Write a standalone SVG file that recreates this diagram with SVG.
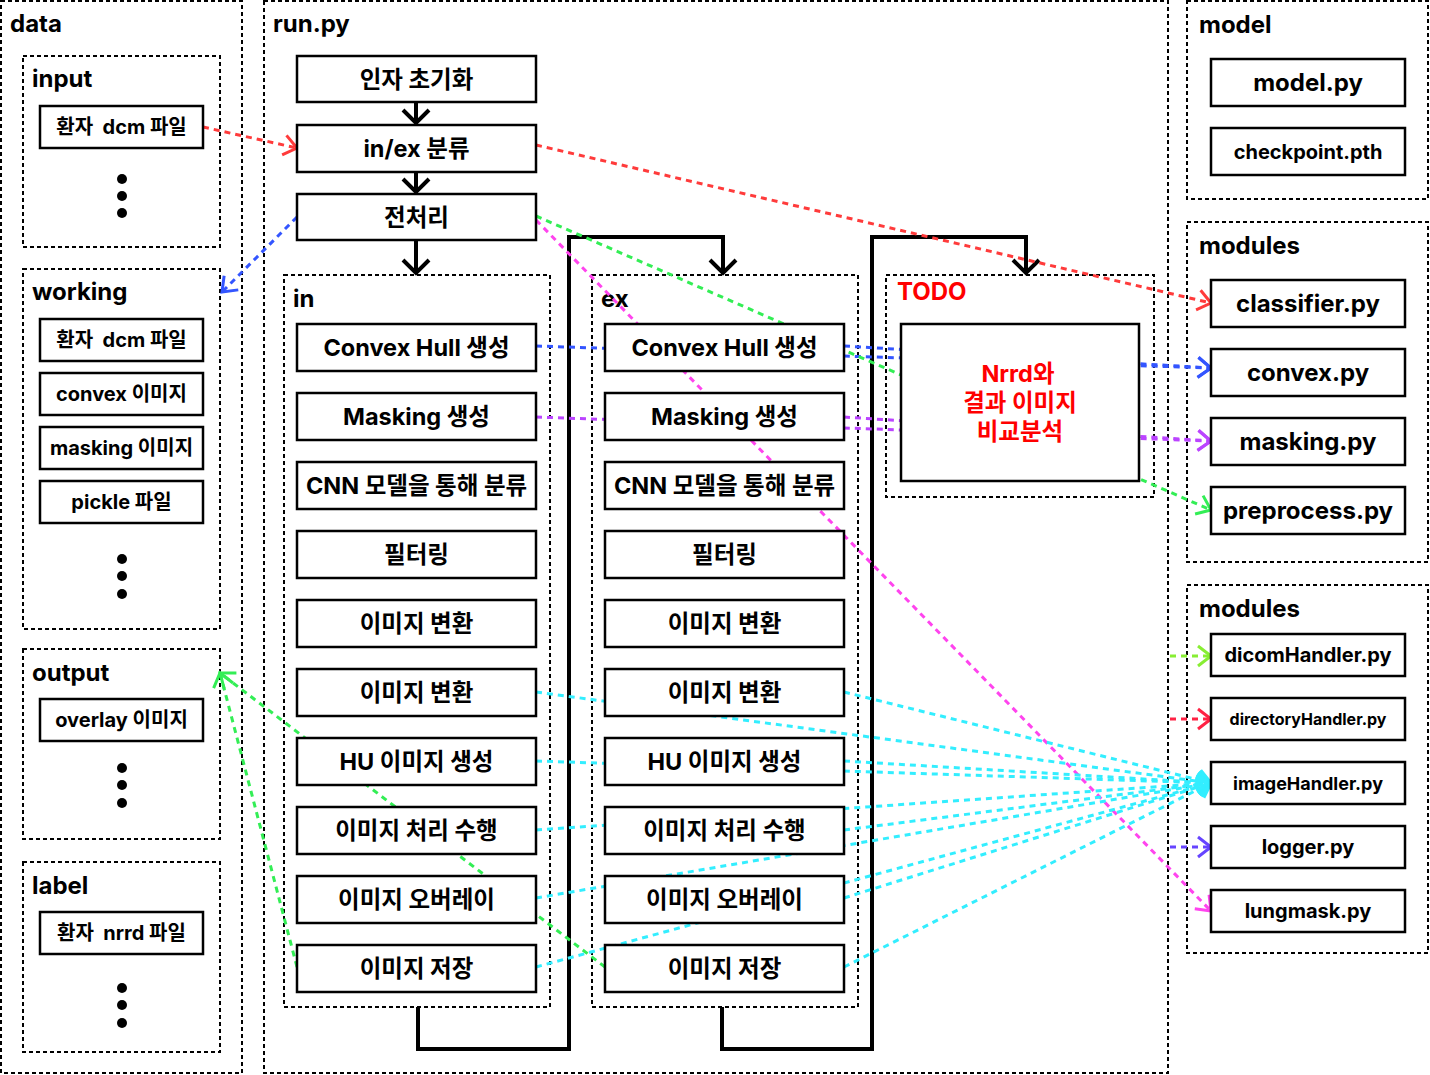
<svg xmlns="http://www.w3.org/2000/svg" width="1430" height="1075" viewBox="0 0 1430 1075">
<style>
  text { font-family: Inter, "Noto Sans CJK KR", sans-serif; font-weight: 700; fill: #000; white-space: pre; }
  .title { font-size: 24px; }
  .bt { font-size: 23.5px; text-anchor: middle; dominant-baseline: central; }
  .mt { font-size: 24px; text-anchor: middle; dominant-baseline: central; }
  .dt { font-size: 20px; text-anchor: middle; dominant-baseline: central; }
  .cont { fill: none; stroke: #000; stroke-width: 2; stroke-dasharray: 4 3; }
  .box { fill: #fff; stroke: #000; stroke-width: 2.5; }
  .flow { fill: none; stroke: #000; stroke-width: 4; }
  .c { fill: none; stroke-width: 3; stroke-dasharray: 6 5; }
  .red { stroke: #ff3b3b; } .blue { stroke: #3355ff; } .purple { stroke: #bb44ff; }
  .green { stroke: #33ee55; } .mag { stroke: #ff44ee; } .cyan { stroke: #33eeff; }
  .lgreen { stroke: #88ee33; } .red2 { stroke: #ff2244; } .indigo { stroke: #6644ff; }
  .red-t { fill: #ff0000; }
</style>
<defs>
  <marker id="aBlack" viewBox="-18 -18 22 36" markerWidth="22" markerHeight="36" refX="0" refY="0" orient="auto" markerUnits="userSpaceOnUse"><path d="M-13,-13 L0,0 L-13,13" fill="none" stroke="#000" stroke-width="4"/></marker>
  <marker id="aRed" viewBox="-16 -14 20 28" markerWidth="20" markerHeight="28" refX="0" refY="0" orient="auto" markerUnits="userSpaceOnUse"><path d="M-13,-10 L0,0 L-13,10" fill="none" stroke="#ff3b3b" stroke-width="3"/></marker>
  <marker id="aBlue" viewBox="-16 -14 20 28" markerWidth="20" markerHeight="28" refX="0" refY="0" orient="auto" markerUnits="userSpaceOnUse"><path d="M-13,-10 L0,0 L-13,10" fill="none" stroke="#3355ff" stroke-width="3"/></marker>
  <marker id="aPurple" viewBox="-16 -14 20 28" markerWidth="20" markerHeight="28" refX="0" refY="0" orient="auto" markerUnits="userSpaceOnUse"><path d="M-13,-10 L0,0 L-13,10" fill="none" stroke="#bb44ff" stroke-width="3"/></marker>
  <marker id="aGreen" viewBox="-16 -14 20 28" markerWidth="20" markerHeight="28" refX="0" refY="0" orient="auto" markerUnits="userSpaceOnUse"><path d="M-13,-10 L0,0 L-13,10" fill="none" stroke="#33ee55" stroke-width="3"/></marker>
  <marker id="aMag" viewBox="-16 -14 20 28" markerWidth="20" markerHeight="28" refX="0" refY="0" orient="auto" markerUnits="userSpaceOnUse"><path d="M-13,-10 L0,0 L-13,10" fill="none" stroke="#ff44ee" stroke-width="3"/></marker>
  <marker id="aCyan" viewBox="-16 -14 20 28" markerWidth="20" markerHeight="28" refX="0" refY="0" orient="auto" markerUnits="userSpaceOnUse"><path d="M-13,-10 L0,0 L-13,10" fill="none" stroke="#33eeff" stroke-width="3"/></marker>
  <marker id="aLgreen" viewBox="-16 -14 20 28" markerWidth="20" markerHeight="28" refX="0" refY="0" orient="auto" markerUnits="userSpaceOnUse"><path d="M-13,-10 L0,0 L-13,10" fill="none" stroke="#88ee33" stroke-width="3"/></marker>
  <marker id="aRed2" viewBox="-16 -14 20 28" markerWidth="20" markerHeight="28" refX="0" refY="0" orient="auto" markerUnits="userSpaceOnUse"><path d="M-13,-10 L0,0 L-13,10" fill="none" stroke="#ff2244" stroke-width="3"/></marker>
  <marker id="aIndigo" viewBox="-16 -14 20 28" markerWidth="20" markerHeight="28" refX="0" refY="0" orient="auto" markerUnits="userSpaceOnUse"><path d="M-13,-10 L0,0 L-13,10" fill="none" stroke="#6644ff" stroke-width="3"/></marker>
</defs>
<rect width="1430" height="1075" fill="#fff"/>

<!-- containers -->
<g id="containers">
  <g id="c-data"><rect class="cont" x="1" y="1" width="241" height="1072"/><text class="title" x="10" y="32">data</text></g>
  <g id="c-run"><rect class="cont" x="264" y="1" width="904" height="1072"/><text class="title" x="273" y="32">run.py</text></g>
  <g id="c-model"><rect class="cont" x="1187" y="1" width="241" height="198"/><text class="title" x="1199" y="33">model</text></g>
  <g id="c-modules1"><rect class="cont" x="1187" y="222" width="241" height="340"/><text class="title" x="1199" y="254">modules</text></g>
  <g id="c-modules2"><rect class="cont" x="1187" y="585" width="241" height="368"/><text class="title" x="1199" y="617">modules</text></g>
  <g id="c-input"><rect class="cont" x="23" y="56" width="197" height="191"/><text class="title" x="32" y="87">input</text></g>
  <g id="c-working"><rect class="cont" x="23" y="269" width="197" height="360"/><text class="title" x="32" y="300">working</text></g>
  <g id="c-output"><rect class="cont" x="23" y="649" width="197" height="190"/><text class="title" x="32" y="681">output</text></g>
  <g id="c-label"><rect class="cont" x="23" y="862" width="197" height="190"/><text class="title" x="32" y="894">label</text></g>
  <g id="c-in"><rect class="cont" x="284" y="275" width="266" height="732"/><text class="title" x="293" y="307">in</text></g>
  <g id="c-ex"><rect class="cont" x="592" y="275" width="266" height="732"/><text class="title" x="601" y="307">ex</text></g>
  <g id="c-todo"><rect class="cont" x="886" y="275" width="268" height="222"/><text class="title red-t" x="897" y="300">TODO</text></g>
</g>

<!-- connectors -->
<g id="connectors">
  <path class="flow" d="M416,102 V123" marker-end="url(#aBlack)"/>
  <path class="flow" d="M416,172 V192" marker-end="url(#aBlack)"/>
  <path class="flow" d="M416,240 V273" marker-end="url(#aBlack)"/>
  <path class="flow" d="M418,1007 V1049 H569 V237 H723 V273" marker-end="url(#aBlack)"/>
  <path class="flow" d="M722,1007 V1049 H872 V237 H1026 V273" marker-end="url(#aBlack)"/>

  <path class="c red" d="M203,127 L297,148" marker-end="url(#aRed)"/>
  <path class="c red" d="M536,145 L1211,303" marker-end="url(#aRed)"/>
  <path class="c blue" d="M297,217 L222,292" marker-end="url(#aBlue)"/>
  <path class="c blue" d="M536,346 L1211,368" marker-end="url(#aBlue)"/>
  <path class="c blue" d="M844,346 L1211,368" marker-end="url(#aBlue)"/>
  <path class="c purple" d="M536,417 L1211,441" marker-end="url(#aPurple)"/>
  <path class="c purple" d="M844,417 L1211,441" marker-end="url(#aPurple)"/>
  <path class="c green" d="M536,216 L1211,510" marker-end="url(#aGreen)"/>
  <path class="c mag" d="M536,220 L1211,911" marker-end="url(#aMag)"/>
  <path class="c green" d="M297,967 L220,673" marker-end="url(#aGreen)"/>
  <path class="c green" d="M605,967 L220,673" marker-end="url(#aGreen)"/>

  <path class="c cyan" d="M536,692 L1211,783" marker-end="url(#aCyan)"/>
  <path class="c cyan" d="M844,692 L1211,783" marker-end="url(#aCyan)"/>
  <path class="c cyan" d="M536,761 L1211,783" marker-end="url(#aCyan)"/>
  <path class="c cyan" d="M844,761 L1211,783" marker-end="url(#aCyan)"/>
  <path class="c cyan" d="M536,830 L1211,783" marker-end="url(#aCyan)"/>
  <path class="c cyan" d="M844,830 L1211,783" marker-end="url(#aCyan)"/>
  <path class="c cyan" d="M536,898 L1211,783" marker-end="url(#aCyan)"/>
  <path class="c cyan" d="M844,898 L1211,783" marker-end="url(#aCyan)"/>
  <path class="c cyan" d="M536,967 L1211,783" marker-end="url(#aCyan)"/>
  <path class="c cyan" d="M844,967 L1211,783" marker-end="url(#aCyan)"/>

  <path class="c lgreen" d="M1170,656 L1211,656" marker-end="url(#aLgreen)"/>
  <path class="c red2" d="M1170,719 L1211,719" marker-end="url(#aRed2)"/>
  <path class="c indigo" d="M1170,847 L1211,847" marker-end="url(#aIndigo)"/>
</g>

<!-- data nodes -->
<g id="n-input-dcm"><rect class="box" x="40" y="106" width="163" height="42"/><text class="dt" x="121.5" y="127">환자  dcm 파일</text></g>
<g id="n-input-dots"><circle cx="122" cy="179" r="5"/><circle cx="122" cy="196" r="5"/><circle cx="122" cy="213" r="5"/></g>
<g id="n-work-dcm"><rect class="box" x="40" y="319" width="163" height="42"/><text class="dt" x="121.5" y="340">환자  dcm 파일</text></g>
<g id="n-work-convex"><rect class="box" x="40" y="373" width="163" height="42"/><text class="dt" x="121.5" y="394">convex 이미지</text></g>
<g id="n-work-masking"><rect class="box" x="40" y="427" width="163" height="42"/><text class="dt" x="121.5" y="448">masking 이미지</text></g>
<g id="n-work-pickle"><rect class="box" x="40" y="481" width="163" height="42"/><text class="dt" x="121.5" y="502">pickle 파일</text></g>
<g id="n-work-dots"><circle cx="122" cy="559" r="5"/><circle cx="122" cy="576" r="5"/><circle cx="122" cy="594" r="5"/></g>
<g id="n-output-overlay"><rect class="box" x="40" y="699" width="163" height="42"/><text class="dt" x="121.5" y="720">overlay 이미지</text></g>
<g id="n-output-dots"><circle cx="122" cy="768" r="5"/><circle cx="122" cy="785" r="5"/><circle cx="122" cy="803" r="5"/></g>
<g id="n-label-nrrd"><rect class="box" x="40" y="912" width="163" height="42"/><text class="dt" x="121.5" y="933">환자  nrrd 파일</text></g>
<g id="n-label-dots"><circle cx="122" cy="988" r="5"/><circle cx="122" cy="1005" r="5"/><circle cx="122" cy="1023" r="5"/></g>

<!-- run.py main -->
<g id="n-init"><rect class="box" x="297" y="56" width="239" height="46"/><text class="bt" x="416.5" y="79">인자 초기화</text></g>
<g id="n-inex"><rect class="box" x="297" y="125" width="239" height="47"/><text class="bt" x="416.5" y="148.5">in/ex 분류</text></g>
<g id="n-pre"><rect class="box" x="297" y="194" width="239" height="46"/><text class="bt" x="416.5" y="217">전처리</text></g>

<!-- in column -->
<g id="n-in-convex"><rect class="box" x="297" y="324" width="239" height="47"/><text class="bt" x="416.5" y="347.5">Convex Hull 생성</text></g>
<g id="n-in-mask"><rect class="box" x="297" y="393" width="239" height="47"/><text class="bt" x="416.5" y="416.5">Masking 생성</text></g>
<g id="n-in-cnn"><rect class="box" x="297" y="462" width="239" height="47"/><text class="bt" x="416.5" y="485.5">CNN 모델을 통해 분류</text></g>
<g id="n-in-filter"><rect class="box" x="297" y="531" width="239" height="47"/><text class="bt" x="416.5" y="554.5">필터링</text></g>
<g id="n-in-conv1"><rect class="box" x="297" y="600" width="239" height="47"/><text class="bt" x="416.5" y="623.5">이미지 변환</text></g>
<g id="n-in-conv2"><rect class="box" x="297" y="669" width="239" height="47"/><text class="bt" x="416.5" y="692.5">이미지 변환</text></g>
<g id="n-in-hu"><rect class="box" x="297" y="738" width="239" height="47"/><text class="bt" x="416.5" y="761.5">HU 이미지 생성</text></g>
<g id="n-in-proc"><rect class="box" x="297" y="807" width="239" height="47"/><text class="bt" x="416.5" y="830.5">이미지 처리 수행</text></g>
<g id="n-in-overlay"><rect class="box" x="297" y="876" width="239" height="47"/><text class="bt" x="416.5" y="899.5">이미지 오버레이</text></g>
<g id="n-in-save"><rect class="box" x="297" y="945" width="239" height="47"/><text class="bt" x="416.5" y="968.5">이미지 저장</text></g>

<!-- ex column -->
<g id="n-ex-convex"><rect class="box" x="605" y="324" width="239" height="47"/><text class="bt" x="724.5" y="347.5">Convex Hull 생성</text></g>
<g id="n-ex-mask"><rect class="box" x="605" y="393" width="239" height="47"/><text class="bt" x="724.5" y="416.5">Masking 생성</text></g>
<g id="n-ex-cnn"><rect class="box" x="605" y="462" width="239" height="47"/><text class="bt" x="724.5" y="485.5">CNN 모델을 통해 분류</text></g>
<g id="n-ex-filter"><rect class="box" x="605" y="531" width="239" height="47"/><text class="bt" x="724.5" y="554.5">필터링</text></g>
<g id="n-ex-conv1"><rect class="box" x="605" y="600" width="239" height="47"/><text class="bt" x="724.5" y="623.5">이미지 변환</text></g>
<g id="n-ex-conv2"><rect class="box" x="605" y="669" width="239" height="47"/><text class="bt" x="724.5" y="692.5">이미지 변환</text></g>
<g id="n-ex-hu"><rect class="box" x="605" y="738" width="239" height="47"/><text class="bt" x="724.5" y="761.5">HU 이미지 생성</text></g>
<g id="n-ex-proc"><rect class="box" x="605" y="807" width="239" height="47"/><text class="bt" x="724.5" y="830.5">이미지 처리 수행</text></g>
<g id="n-ex-overlay"><rect class="box" x="605" y="876" width="239" height="47"/><text class="bt" x="724.5" y="899.5">이미지 오버레이</text></g>
<g id="n-ex-save"><rect class="box" x="605" y="945" width="239" height="47"/><text class="bt" x="724.5" y="968.5">이미지 저장</text></g>

<!-- TODO -->
<g id="n-todo"><rect class="box" x="901" y="324" width="238" height="157"/>
  <text class="bt red-t" x="1018" y="373">Nrrd와</text>
  <text class="bt red-t" x="1020" y="402">결과 이미지</text>
  <text class="bt red-t" x="1020" y="431">비교분석</text>
</g>

<!-- model -->
<g id="n-modelpy"><rect class="box" x="1211" y="59" width="194" height="47"/><text class="mt" x="1308" y="82.5">model.py</text></g>
<g id="n-ckpt"><rect class="box" x="1211" y="128" width="194" height="47"/><text class="mt" x="1308" y="151.5" style="font-size:20px">checkpoint.pth</text></g>

<!-- modules 1 -->
<g id="n-classifier"><rect class="box" x="1211" y="280" width="194" height="47"/><text class="mt" x="1308" y="303.5">classifier.py</text></g>
<g id="n-convexpy"><rect class="box" x="1211" y="349" width="194" height="47"/><text class="mt" x="1308" y="372.5">convex.py</text></g>
<g id="n-maskingpy"><rect class="box" x="1211" y="418" width="194" height="47"/><text class="mt" x="1308" y="441.5">masking.py</text></g>
<g id="n-preprocesspy"><rect class="box" x="1211" y="487" width="194" height="47"/><text class="mt" x="1308" y="510.5">preprocess.py</text></g>

<!-- modules 2 -->
<g id="n-dicom"><rect class="box" x="1211" y="634" width="194" height="42"/><text class="mt" x="1308" y="655" style="font-size:20px">dicomHandler.py</text></g>
<g id="n-directory"><rect class="box" x="1211" y="698" width="194" height="42"/><text class="mt" x="1308" y="719" style="font-size:16px">directoryHandler.py</text></g>
<g id="n-image"><rect class="box" x="1211" y="762" width="194" height="42"/><text class="mt" x="1308" y="783" style="font-size:18px">imageHandler.py</text></g>
<g id="n-logger"><rect class="box" x="1211" y="826" width="194" height="42"/><text class="mt" x="1308" y="847" style="font-size:20px">logger.py</text></g>
<g id="n-lungmask"><rect class="box" x="1211" y="890" width="194" height="42"/><text class="mt" x="1308" y="911" style="font-size:20px">lungmask.py</text></g>
</svg>
